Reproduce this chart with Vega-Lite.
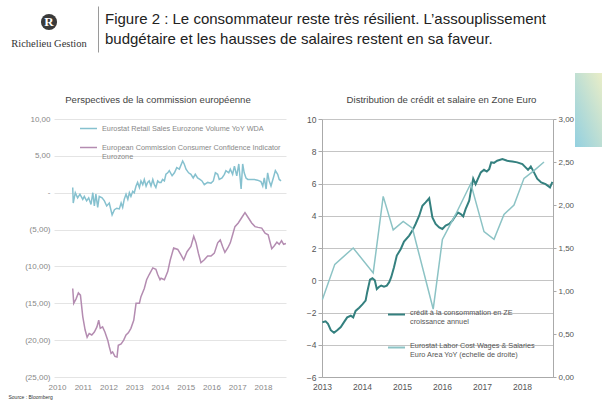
{
  "$schema": "https://vega.github.io/schema/vega-lite/v6.json",
  "padding": {"left": 8, "top": 6, "right": 0, "bottom": 0},
  "background": "white",
  "title": {"text": "Source : Bloomberg", "orient": "bottom", "anchor": "start", "fontSize": 5, "fontWeight": "normal", "color": "#333", "offset": 4},
  "datasets": {
    "gauche": [
      {"t": 2010.61, "serie": "ventes", "v": 0.7}, {"t": 2010.63, "serie": "ventes", "v": -1.4}, {"t": 2010.71, "serie": "ventes", "v": 0.0}, {"t": 2010.80, "serie": "ventes", "v": -0.7}, {"t": 2010.89, "serie": "ventes", "v": -0.2}, {"t": 2011.00, "serie": "ventes", "v": -0.9}, {"t": 2011.06, "serie": "ventes", "v": -0.5}, {"t": 2011.15, "serie": "ventes", "v": -1.1}, {"t": 2011.23, "serie": "ventes", "v": -0.7}, {"t": 2011.32, "serie": "ventes", "v": -1.6}, {"t": 2011.39, "serie": "ventes", "v": 0.0}, {"t": 2011.45, "serie": "ventes", "v": -1.8}, {"t": 2011.51, "serie": "ventes", "v": -0.2}, {"t": 2011.58, "serie": "ventes", "v": -2.0}, {"t": 2011.64, "serie": "ventes", "v": -0.5}, {"t": 2011.75, "serie": "ventes", "v": -0.7}, {"t": 2011.84, "serie": "ventes", "v": -1.1}, {"t": 2011.93, "serie": "ventes", "v": -1.8}, {"t": 2012.03, "serie": "ventes", "v": -1.4}, {"t": 2012.14, "serie": "ventes", "v": -3.0}, {"t": 2012.23, "serie": "ventes", "v": -2.3}, {"t": 2012.32, "serie": "ventes", "v": -2.1}, {"t": 2012.42, "serie": "ventes", "v": -2.2}, {"t": 2012.49, "serie": "ventes", "v": -1.4}, {"t": 2012.55, "serie": "ventes", "v": -2.0}, {"t": 2012.61, "serie": "ventes", "v": -0.9}, {"t": 2012.68, "serie": "ventes", "v": -0.2}, {"t": 2012.75, "serie": "ventes", "v": -0.9}, {"t": 2012.81, "serie": "ventes", "v": 0.0}, {"t": 2012.87, "serie": "ventes", "v": -0.5}, {"t": 2012.94, "serie": "ventes", "v": 0.2}, {"t": 2013.00, "serie": "ventes", "v": 0.0}, {"t": 2013.07, "serie": "ventes", "v": 0.9}, {"t": 2013.13, "serie": "ventes", "v": 1.4}, {"t": 2013.20, "serie": "ventes", "v": 0.7}, {"t": 2013.26, "serie": "ventes", "v": 1.6}, {"t": 2013.33, "serie": "ventes", "v": 1.1}, {"t": 2013.39, "serie": "ventes", "v": 1.8}, {"t": 2013.46, "serie": "ventes", "v": 0.9}, {"t": 2013.52, "serie": "ventes", "v": 1.4}, {"t": 2013.58, "serie": "ventes", "v": 1.6}, {"t": 2013.65, "serie": "ventes", "v": 0.9}, {"t": 2013.72, "serie": "ventes", "v": 1.8}, {"t": 2013.78, "serie": "ventes", "v": 1.1}, {"t": 2013.84, "serie": "ventes", "v": 0.7}, {"t": 2013.91, "serie": "ventes", "v": 1.6}, {"t": 2013.97, "serie": "ventes", "v": 1.4}, {"t": 2014.04, "serie": "ventes", "v": 1.4}, {"t": 2014.10, "serie": "ventes", "v": 1.8}, {"t": 2014.17, "serie": "ventes", "v": 1.6}, {"t": 2014.23, "serie": "ventes", "v": 2.5}, {"t": 2014.30, "serie": "ventes", "v": 2.7}, {"t": 2014.36, "serie": "ventes", "v": 3.0}, {"t": 2014.47, "serie": "ventes", "v": 2.3}, {"t": 2014.56, "serie": "ventes", "v": 2.7}, {"t": 2014.65, "serie": "ventes", "v": 3.4}, {"t": 2014.75, "serie": "ventes", "v": 3.2}, {"t": 2014.88, "serie": "ventes", "v": 4.3}, {"t": 2014.94, "serie": "ventes", "v": 3.9}, {"t": 2015.01, "serie": "ventes", "v": 3.2}, {"t": 2015.11, "serie": "ventes", "v": 2.7}, {"t": 2015.20, "serie": "ventes", "v": 2.5}, {"t": 2015.29, "serie": "ventes", "v": 2.0}, {"t": 2015.37, "serie": "ventes", "v": 2.5}, {"t": 2015.46, "serie": "ventes", "v": 2.0}, {"t": 2015.55, "serie": "ventes", "v": 1.8}, {"t": 2015.63, "serie": "ventes", "v": 1.6}, {"t": 2015.72, "serie": "ventes", "v": 1.1}, {"t": 2015.85, "serie": "ventes", "v": 1.4}, {"t": 2015.98, "serie": "ventes", "v": 1.3}, {"t": 2016.07, "serie": "ventes", "v": 1.6}, {"t": 2016.15, "serie": "ventes", "v": 2.7}, {"t": 2016.24, "serie": "ventes", "v": 2.5}, {"t": 2016.30, "serie": "ventes", "v": 1.8}, {"t": 2016.41, "serie": "ventes", "v": 2.0}, {"t": 2016.50, "serie": "ventes", "v": 2.5}, {"t": 2016.56, "serie": "ventes", "v": 3.0}, {"t": 2016.67, "serie": "ventes", "v": 2.7}, {"t": 2016.73, "serie": "ventes", "v": 3.2}, {"t": 2016.82, "serie": "ventes", "v": 2.5}, {"t": 2016.89, "serie": "ventes", "v": 3.6}, {"t": 2016.98, "serie": "ventes", "v": 2.3}, {"t": 2017.06, "serie": "ventes", "v": 3.9}, {"t": 2017.15, "serie": "ventes", "v": 0.5}, {"t": 2017.21, "serie": "ventes", "v": 3.9}, {"t": 2017.27, "serie": "ventes", "v": 2.7}, {"t": 2017.34, "serie": "ventes", "v": 2.0}, {"t": 2017.41, "serie": "ventes", "v": 1.8}, {"t": 2017.53, "serie": "ventes", "v": 1.8}, {"t": 2017.66, "serie": "ventes", "v": 1.8}, {"t": 2017.79, "serie": "ventes", "v": 1.7}, {"t": 2017.92, "serie": "ventes", "v": 1.5}, {"t": 2017.99, "serie": "ventes", "v": 0.9}, {"t": 2018.05, "serie": "ventes", "v": 2.0}, {"t": 2018.12, "serie": "ventes", "v": 0.5}, {"t": 2018.18, "serie": "ventes", "v": 2.7}, {"t": 2018.24, "serie": "ventes", "v": 1.6}, {"t": 2018.31, "serie": "ventes", "v": 0.9}, {"t": 2018.40, "serie": "ventes", "v": 2.0}, {"t": 2018.48, "serie": "ventes", "v": 3.0}, {"t": 2018.57, "serie": "ventes", "v": 2.5}, {"t": 2018.63, "serie": "ventes", "v": 1.8}, {"t": 2018.70, "serie": "ventes", "v": 1.6},
      {"t": 2010.61, "serie": "confiance", "v": -13.0}, {"t": 2010.65, "serie": "confiance", "v": -15.0}, {"t": 2010.74, "serie": "confiance", "v": -14.4}, {"t": 2010.83, "serie": "confiance", "v": -13.6}, {"t": 2010.91, "serie": "confiance", "v": -13.9}, {"t": 2011.00, "serie": "confiance", "v": -16.8}, {"t": 2011.09, "serie": "confiance", "v": -18.6}, {"t": 2011.17, "serie": "confiance", "v": -19.6}, {"t": 2011.25, "serie": "confiance", "v": -19.1}, {"t": 2011.35, "serie": "confiance", "v": -19.3}, {"t": 2011.45, "serie": "confiance", "v": -18.9}, {"t": 2011.55, "serie": "confiance", "v": -18.2}, {"t": 2011.62, "serie": "confiance", "v": -17.3}, {"t": 2011.68, "serie": "confiance", "v": -18.4}, {"t": 2011.77, "serie": "confiance", "v": -18.2}, {"t": 2011.86, "serie": "confiance", "v": -18.9}, {"t": 2011.97, "serie": "confiance", "v": -20.0}, {"t": 2012.03, "serie": "confiance", "v": -20.9}, {"t": 2012.10, "serie": "confiance", "v": -21.8}, {"t": 2012.16, "serie": "confiance", "v": -21.6}, {"t": 2012.25, "serie": "confiance", "v": -22.2}, {"t": 2012.33, "serie": "confiance", "v": -22.3}, {"t": 2012.38, "serie": "confiance", "v": -20.7}, {"t": 2012.49, "serie": "confiance", "v": -20.5}, {"t": 2012.59, "serie": "confiance", "v": -20.0}, {"t": 2012.68, "serie": "confiance", "v": -19.3}, {"t": 2012.77, "serie": "confiance", "v": -19.0}, {"t": 2012.87, "serie": "confiance", "v": -18.4}, {"t": 2012.98, "serie": "confiance", "v": -17.3}, {"t": 2013.07, "serie": "confiance", "v": -15.0}, {"t": 2013.20, "serie": "confiance", "v": -15.0}, {"t": 2013.26, "serie": "confiance", "v": -14.1}, {"t": 2013.39, "serie": "confiance", "v": -13.0}, {"t": 2013.48, "serie": "confiance", "v": -11.8}, {"t": 2013.58, "serie": "confiance", "v": -11.1}, {"t": 2013.72, "serie": "confiance", "v": -10.2}, {"t": 2013.84, "serie": "confiance", "v": -10.4}, {"t": 2013.91, "serie": "confiance", "v": -11.1}, {"t": 2014.00, "serie": "confiance", "v": -11.8}, {"t": 2014.04, "serie": "confiance", "v": -11.6}, {"t": 2014.17, "serie": "confiance", "v": -11.8}, {"t": 2014.30, "serie": "confiance", "v": -10.7}, {"t": 2014.40, "serie": "confiance", "v": -9.1}, {"t": 2014.53, "serie": "confiance", "v": -7.5}, {"t": 2014.69, "serie": "confiance", "v": -7.7}, {"t": 2014.81, "serie": "confiance", "v": -8.4}, {"t": 2014.92, "serie": "confiance", "v": -9.1}, {"t": 2015.05, "serie": "confiance", "v": -8.0}, {"t": 2015.20, "serie": "confiance", "v": -7.3}, {"t": 2015.31, "serie": "confiance", "v": -5.9}, {"t": 2015.40, "serie": "confiance", "v": -6.8}, {"t": 2015.49, "serie": "confiance", "v": -8.2}, {"t": 2015.59, "serie": "confiance", "v": -9.5}, {"t": 2015.72, "serie": "confiance", "v": -9.1}, {"t": 2015.85, "serie": "confiance", "v": -8.6}, {"t": 2015.98, "serie": "confiance", "v": -8.6}, {"t": 2016.11, "serie": "confiance", "v": -8.2}, {"t": 2016.24, "serie": "confiance", "v": -6.8}, {"t": 2016.34, "serie": "confiance", "v": -6.4}, {"t": 2016.43, "serie": "confiance", "v": -7.3}, {"t": 2016.52, "serie": "confiance", "v": -8.1}, {"t": 2016.63, "serie": "confiance", "v": -7.5}, {"t": 2016.73, "serie": "confiance", "v": -6.8}, {"t": 2016.82, "serie": "confiance", "v": -5.7}, {"t": 2016.91, "serie": "confiance", "v": -4.6}, {"t": 2017.04, "serie": "confiance", "v": -4.1}, {"t": 2017.17, "serie": "confiance", "v": -3.4}, {"t": 2017.30, "serie": "confiance", "v": -2.7}, {"t": 2017.43, "serie": "confiance", "v": -3.4}, {"t": 2017.56, "serie": "confiance", "v": -4.1}, {"t": 2017.69, "serie": "confiance", "v": -4.6}, {"t": 2017.81, "serie": "confiance", "v": -4.7}, {"t": 2017.95, "serie": "confiance", "v": -4.8}, {"t": 2018.08, "serie": "confiance", "v": -5.5}, {"t": 2018.20, "serie": "confiance", "v": -5.7}, {"t": 2018.34, "serie": "confiance", "v": -7.6}, {"t": 2018.44, "serie": "confiance", "v": -7.2}, {"t": 2018.54, "serie": "confiance", "v": -6.7}, {"t": 2018.63, "serie": "confiance", "v": -7.0}, {"t": 2018.72, "serie": "confiance", "v": -6.5}, {"t": 2018.80, "serie": "confiance", "v": -7.0}, {"t": 2018.89, "serie": "confiance", "v": -6.9}
    ],
    "credit": [
      {"t": 2013.01, "serie": "credit", "v": -2.6}, {"t": 2013.09, "serie": "credit", "v": -2.55}, {"t": 2013.15, "serie": "credit", "v": -2.7}, {"t": 2013.22, "serie": "credit", "v": -3.1}, {"t": 2013.30, "serie": "credit", "v": -3.26}, {"t": 2013.38, "serie": "credit", "v": -3.1}, {"t": 2013.47, "serie": "credit", "v": -2.9}, {"t": 2013.55, "serie": "credit", "v": -2.6}, {"t": 2013.63, "serie": "credit", "v": -2.3}, {"t": 2013.72, "serie": "credit", "v": -2.2}, {"t": 2013.78, "serie": "credit", "v": -2.3}, {"t": 2013.84, "serie": "credit", "v": -1.9}, {"t": 2013.93, "serie": "credit", "v": -1.7}, {"t": 2014.01, "serie": "credit", "v": -1.5}, {"t": 2014.09, "serie": "credit", "v": -1.26}, {"t": 2014.13, "serie": "credit", "v": -0.74}, {"t": 2014.20, "serie": "credit", "v": 0.04}, {"t": 2014.26, "serie": "credit", "v": 0.12}, {"t": 2014.32, "serie": "credit", "v": 0.0}, {"t": 2014.37, "serie": "credit", "v": -0.54}, {"t": 2014.43, "serie": "credit", "v": -0.4}, {"t": 2014.48, "serie": "credit", "v": -0.33}, {"t": 2014.55, "serie": "credit", "v": -0.4}, {"t": 2014.62, "serie": "credit", "v": -0.33}, {"t": 2014.68, "serie": "credit", "v": -0.12}, {"t": 2014.73, "serie": "credit", "v": 0.19}, {"t": 2014.80, "serie": "credit", "v": 0.8}, {"t": 2014.87, "serie": "credit", "v": 1.53}, {"t": 2014.97, "serie": "credit", "v": 1.94}, {"t": 2015.05, "serie": "credit", "v": 2.4}, {"t": 2015.18, "serie": "credit", "v": 2.77}, {"t": 2015.26, "serie": "credit", "v": 3.08}, {"t": 2015.34, "serie": "credit", "v": 3.49}, {"t": 2015.43, "serie": "credit", "v": 4.0}, {"t": 2015.51, "serie": "credit", "v": 4.62}, {"t": 2015.59, "serie": "credit", "v": 4.83}, {"t": 2015.68, "serie": "credit", "v": 5.08}, {"t": 2015.76, "serie": "credit", "v": 3.9}, {"t": 2015.84, "serie": "credit", "v": 3.49}, {"t": 2015.93, "serie": "credit", "v": 3.28}, {"t": 2016.01, "serie": "credit", "v": 3.18}, {"t": 2016.09, "serie": "credit", "v": 3.39}, {"t": 2016.18, "serie": "credit", "v": 3.49}, {"t": 2016.26, "serie": "credit", "v": 3.7}, {"t": 2016.34, "serie": "credit", "v": 4.0}, {"t": 2016.40, "serie": "credit", "v": 4.2}, {"t": 2016.47, "serie": "credit", "v": 4.1}, {"t": 2016.53, "serie": "credit", "v": 3.96}, {"t": 2016.59, "serie": "credit", "v": 4.41}, {"t": 2016.68, "serie": "credit", "v": 4.93}, {"t": 2016.73, "serie": "credit", "v": 5.65}, {"t": 2016.78, "serie": "credit", "v": 6.3}, {"t": 2016.84, "serie": "credit", "v": 5.96}, {"t": 2016.90, "serie": "credit", "v": 6.3}, {"t": 2016.97, "serie": "credit", "v": 6.69}, {"t": 2017.05, "serie": "credit", "v": 6.85}, {"t": 2017.12, "serie": "credit", "v": 6.74}, {"t": 2017.18, "serie": "credit", "v": 6.89}, {"t": 2017.23, "serie": "credit", "v": 7.31}, {"t": 2017.30, "serie": "credit", "v": 7.28}, {"t": 2017.38, "serie": "credit", "v": 7.41}, {"t": 2017.51, "serie": "credit", "v": 7.51}, {"t": 2017.63, "serie": "credit", "v": 7.41}, {"t": 2017.76, "serie": "credit", "v": 7.36}, {"t": 2017.88, "serie": "credit", "v": 7.31}, {"t": 2018.01, "serie": "credit", "v": 7.2}, {"t": 2018.09, "serie": "credit", "v": 7.0}, {"t": 2018.15, "serie": "credit", "v": 6.85}, {"t": 2018.22, "serie": "credit", "v": 7.05}, {"t": 2018.30, "serie": "credit", "v": 6.69}, {"t": 2018.38, "serie": "credit", "v": 6.3}, {"t": 2018.48, "serie": "credit", "v": 6.07}, {"t": 2018.59, "serie": "credit", "v": 5.96}, {"t": 2018.70, "serie": "credit", "v": 5.76}, {"t": 2018.76, "serie": "credit", "v": 6.1}
    ],
    "salaires": [
      {"t": 2013.01, "serie": "salaires", "v": 0.90}, {"t": 2013.32, "serie": "salaires", "v": 1.31}, {"t": 2013.78, "serie": "salaires", "v": 1.50}, {"t": 2014.28, "serie": "salaires", "v": 1.21}, {"t": 2014.53, "serie": "salaires", "v": 2.10}, {"t": 2014.78, "serie": "salaires", "v": 1.71}, {"t": 2015.03, "serie": "salaires", "v": 1.81}, {"t": 2015.26, "serie": "salaires", "v": 1.73}, {"t": 2015.78, "serie": "salaires", "v": 0.79}, {"t": 2016.01, "serie": "salaires", "v": 1.60}, {"t": 2016.34, "serie": "salaires", "v": 1.89}, {"t": 2016.72, "serie": "salaires", "v": 2.25}, {"t": 2017.05, "serie": "salaires", "v": 1.69}, {"t": 2017.30, "serie": "salaires", "v": 1.60}, {"t": 2017.55, "serie": "salaires", "v": 1.89}, {"t": 2017.80, "serie": "salaires", "v": 2.00}, {"t": 2018.05, "serie": "salaires", "v": 2.31}, {"t": 2018.30, "serie": "salaires", "v": 2.40}, {"t": 2018.55, "serie": "salaires", "v": 2.50}
    ]
  },
  "columns": 1,
  "align": "none",
  "spacing": 20,
  "concat": [
    {
      "spacing": 9,
      "hconcat": [
        {
          "width": 80,
          "height": 32,
          "data": {"values": [{"lettre": "R", "nom": "Richelieu Gestion"}]},
          "title": {"text": "Richelieu Gestion", "orient": "bottom", "font": "Liberation Serif", "fontSize": 10.5, "fontWeight": "normal", "color": "#333", "offset": 1},
          "layer": [
            {"mark": {"type": "point", "filled": true, "color": "#3a3a3a", "size": 260, "opacity": 1}, "encoding": {}},
            {"mark": {"type": "text", "color": "white", "font": "Liberation Serif", "fontSize": 13, "fontWeight": "bold", "baseline": "middle"}, "encoding": {"text": {"field": "lettre"}}}
          ]
        },
        {
          "width": 480,
          "height": 46,
          "data": {"values": [
            {"ligne": 1, "texte": "Figure 2 : Le consommateur reste très résilient.  L’assouplissement"},
            {"ligne": 2, "texte": "budgétaire et les hausses de salaires restent en sa faveur."}
          ]},
          "mark": {"type": "text", "align": "left", "baseline": "middle", "dx": 7, "fontSize": 15, "color": "#222"},
          "encoding": {
            "x": {"datum": 0, "type": "quantitative", "scale": {"domain": [0, 1]}, "axis": null},
            "y": {"field": "ligne", "type": "ordinal", "scale": {"type": "point", "padding": 0.6}, "axis": {"title": null, "labels": false, "ticks": false, "domain": true, "domainColor": "#9a9a9a", "grid": false, "minExtent": 0, "maxExtent": 0}},
            "text": {"field": "texte"}
          }
        }
      ]
    },
    {
      "spacing": 1,
      "resolve": {"scale": {"color": "independent"}, "legend": {"color": "independent"}},
      "hconcat": [
        {
          "width": 1,
          "height": 1,
          "data": {"values": [{"vide": 0}]},
          "mark": {"type": "rule", "opacity": 0},
          "encoding": {}
        },
        {
          "width": 232,
          "height": 258,
          "data": {"name": "gauche"},
          "title": {"text": "Perspectives de la commission européenne", "fontSize": 9.6, "fontWeight": "normal", "color": "#444", "offset": 10, "frame": "group", "dx": -12},
          "mark": {"type": "line", "strokeWidth": 1.5},
          "encoding": {
            "x": {"field": "t", "type": "quantitative", "scale": {"domain": [2009.883, 2018.893], "nice": false, "zero": false},
              "axis": {"title": null, "values": [2010, 2011, 2012, 2013, 2014, 2015, 2016, 2017, 2018], "format": "d", "domain": false, "ticks": false, "grid": false, "labelFlush": false, "labelColor": "#888", "labelFontSize": 8, "labelPadding": 6}},
            "y": {"field": "v", "type": "quantitative", "scale": {"domain": [-25, 10], "nice": false, "zero": false},
              "axis": {"title": null, "values": [-25, -20, -15, -10, -5, 0, 5, 10], "grid": true, "gridColor": "#e4e4e4", "domain": false, "ticks": false, "labelColor": "#888", "labelFontSize": 8, "labelPadding": 4, "minExtent": 43,
                "labelExpr": "datum.value == 0 ? '-' : (datum.value < 0 ? '(' + replace(format(-datum.value, '.2f'), '.', ',') + ')' : replace(format(datum.value, '.2f'), '.', ','))"}},
            "color": {"field": "serie", "type": "nominal", "scale": {"domain": ["ventes", "confiance"], "range": ["#86c1cf", "#b48cb1"]},
              "legend": {"title": null, "orient": "none", "legendX": 25, "legendY": 0, "symbolType": "stroke", "symbolSize": 289, "symbolStrokeWidth": 1.5, "labelFontSize": 7.3, "labelColor": "#888", "labelLimit": 300, "rowPadding": 6,
                "labelExpr": "datum.label == 'ventes' ? 'Eurostat Retail Sales Eurozone Volume YoY WDA' : ['European Commission Consumer Confidence Indicator', 'Eurozone']"}}
          }
        },
        {
          "width": 231,
          "height": 258,
          "title": {"text": "Distribution de crédit et salaire en Zone Euro", "fontSize": 9.6, "fontWeight": "normal", "color": "#444", "offset": 10, "frame": "group", "dx": 4},
          "layer": [
            {
              "data": {"name": "credit"},
              "mark": {"type": "line", "strokeWidth": 2},
              "encoding": {
                "x": {"field": "t", "type": "quantitative", "scale": {"domain": [2013, 2018.775], "nice": false, "zero": false},
                  "axis": {"title": null, "values": [2013, 2014, 2015, 2016, 2017, 2018], "format": "d", "domain": true, "domainColor": "#aaa", "ticks": false, "grid": false, "labelFlush": false, "labelColor": "#555", "labelFontSize": 8.5, "labelPadding": 5}},
                "y": {"field": "v", "type": "quantitative", "scale": {"domain": [-6, 10], "nice": false, "zero": false},
                  "axis": {"title": null, "values": [-6, -4, -2, 0, 2, 4, 6, 8, 10], "grid": true, "gridColor": "#c4c4c4", "domain": true, "domainColor": "#aaa", "ticks": true, "tickColor": "#aaa", "tickSize": 4, "labelColor": "#555", "labelFontSize": 8.5, "labelPadding": 2, "minExtent": 32}},
                "color": {"field": "serie", "type": "nominal", "scale": {"domain": ["credit", "salaires"], "range": ["#34807f", "#8cc3c5"]},
                  "legend": {"title": null, "orient": "none", "legendX": 65, "legendY": 186, "symbolType": "stroke", "symbolSize": 289, "symbolStrokeWidth": 2, "labelFontSize": 7.3, "labelColor": "#555", "labelLimit": 300, "rowPadding": 12, "labelBaseline": "alphabetic",
                    "labelExpr": "datum.label == 'credit' ? ['crédit à la consommation en ZE', 'croissance annuel'] : ['Eurostat Labor Cost Wages & Salaries', 'Euro Area YoY (echelle de droite)']"}}
              }
            },
            {
              "data": {"name": "salaires"},
              "mark": {"type": "line", "strokeWidth": 1.5},
              "encoding": {
                "x": {"field": "t", "type": "quantitative"},
                "y": {"field": "v", "type": "quantitative", "scale": {"domain": [0, 3], "nice": false, "zero": false},
                  "axis": {"title": null, "orient": "right", "values": [0, 0.5, 1, 1.5, 2, 2.5, 3], "grid": false, "domain": true, "domainColor": "#aaa", "ticks": true, "tickColor": "#aaa", "tickSize": 3, "labelColor": "#555", "labelFontSize": 8, "labelPadding": 2, "minExtent": 0,
                    "labelExpr": "replace(format(datum.value, '.2f'), '.', ',')"}},
                "color": {"field": "serie", "type": "nominal"}
              }
            }
          ],
          "resolve": {"scale": {"y": "independent"}, "axis": {"y": "independent"}}
        },
        {
          "width": 30,
          "height": 258,
          "data": {"values": [{"zone": "cadre"}]},
          "mark": {"type": "rect", "clip": false, "color": {"gradient": "linear", "x1": 0, "y1": 1, "x2": 1, "y2": 0, "stops": [{"offset": 0, "color": "#93d0e0"}, {"offset": 1, "color": "#eeefc6"}]}},
          "encoding": {
            "y": {"datum": 1.1783, "type": "quantitative", "scale": {"domain": [0, 1], "nice": false, "zero": false}, "axis": null},
            "y2": {"datum": 0.8915}
          }
        }
      ]
    }
  ],
  "config": {
    "font": "Liberation Sans",
    "view": {"stroke": null},
    "title": {"fontWeight": "normal"}
  }
}
